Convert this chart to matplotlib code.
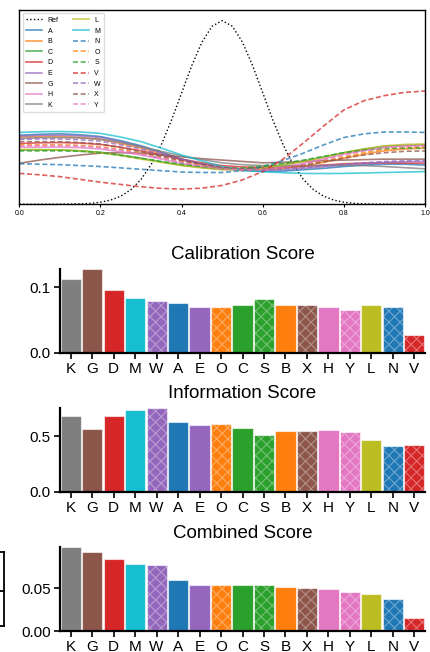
import numpy as np
import matplotlib
matplotlib.use('Agg')
import matplotlib.pyplot as plt
from matplotlib.lines import Line2D

plt.rcParams['font.family'] = ['Liberation Sans', 'DejaVu Sans']
plt.rcParams['hatch.linewidth'] = 0.8

# ---- data: fitted curves (top panel) ----
x_ref = [0.0, 0.025, 0.05, 0.075, 0.1, 0.125, 0.15, 0.175, 0.2, 0.225,
         0.25, 0.275, 0.3, 0.325, 0.35, 0.375, 0.4, 0.425, 0.45, 0.475,
         0.5, 0.525, 0.55, 0.575, 0.6, 0.625, 0.65, 0.675, 0.7, 0.725,
         0.75, 0.775, 0.8, 0.825, 0.85, 0.875, 0.9, 0.925, 0.95, 0.975, 1.0]
ref = [0.0, 0.0, 0.0002, 0.0005, 0.0013, 0.0035, 0.0088, 0.0203, 0.0443,
       0.091, 0.1753, 0.3174, 0.5399, 0.863, 1.2952, 1.826, 2.4197, 3.011,
       3.5207, 3.866, 3.9894, 3.866, 3.5207, 3.011, 2.4197, 1.826, 1.2952,
       0.863, 0.5399, 0.3174, 0.1753, 0.091, 0.0443, 0.0203, 0.0088, 0.0035,
       0.0013, 0.0005, 0.0002, 0.0, 0.0]

x_fit = [0.0, 0.05, 0.1, 0.15, 0.2, 0.25, 0.3, 0.35, 0.4, 0.45, 0.5,
         0.55, 0.6, 0.65, 0.7, 0.75, 0.8, 0.85, 0.9, 0.95, 1.0]
curves = {
    'A': [1.50, 1.52, 1.53, 1.51, 1.47, 1.38, 1.27, 1.13, 0.98, 0.87, 0.78,
          0.73, 0.71, 0.72, 0.75, 0.78, 0.82, 0.85, 0.87, 0.87, 0.85],
    'B': [1.46, 1.47, 1.47, 1.45, 1.41, 1.32, 1.22, 1.09, 0.96, 0.86, 0.78,
          0.75, 0.75, 0.78, 0.83, 0.91, 1.00, 1.09, 1.16, 1.20, 1.22],
    'C': [1.18, 1.18, 1.18, 1.16, 1.13, 1.07, 1.00, 0.92, 0.85, 0.80, 0.76,
          0.76, 0.80, 0.86, 0.94, 1.03, 1.12, 1.20, 1.26, 1.28, 1.29],
    'D': [1.32, 1.335, 1.34, 1.33, 1.30, 1.24, 1.16, 1.07, 0.98, 0.90, 0.84,
          0.81, 0.80, 0.805, 0.82, 0.85, 0.88, 0.895, 0.90, 0.895, 0.89],
    'E': [1.48, 1.495, 1.50, 1.485, 1.45, 1.36, 1.25, 1.12, 0.98, 0.88, 0.80,
          0.75, 0.73, 0.75, 0.78, 0.815, 0.85, 0.88, 0.91, 0.925, 0.93],
    'G': [0.89, 0.96, 1.02, 1.07, 1.11, 1.12, 1.11, 1.07, 1.03, 0.99, 0.96,
          0.93, 0.90, 0.91, 0.93, 0.945, 0.96, 0.97, 0.98, 0.98, 0.98],
    'H': [1.24, 1.24, 1.24, 1.23, 1.20, 1.14, 1.07, 0.98, 0.89, 0.82, 0.76,
          0.75, 0.76, 0.81, 0.89, 0.99, 1.09, 1.17, 1.24, 1.27, 1.28],
    'K': [1.43, 1.445, 1.45, 1.44, 1.41, 1.34, 1.25, 1.15, 1.05, 0.97, 0.90,
          0.86, 0.84, 0.835, 0.84, 0.845, 0.85, 0.84, 0.82, 0.795, 0.77],
    'L': [1.19, 1.19, 1.18, 1.16, 1.12, 1.06, 0.98, 0.91, 0.84, 0.79, 0.75,
          0.75, 0.78, 0.85, 0.93, 1.02, 1.12, 1.20, 1.27, 1.30, 1.31],
    'M': [1.56, 1.575, 1.58, 1.57, 1.54, 1.46, 1.36, 1.22, 1.07, 0.94, 0.82,
          0.75, 0.71, 0.685, 0.67, 0.668, 0.67, 0.68, 0.69, 0.70, 0.71],
    'N': [0.88, 0.87, 0.86, 0.84, 0.82, 0.79, 0.76, 0.73, 0.70, 0.69, 0.69,
          0.73, 0.82, 0.95, 1.11, 1.29, 1.45, 1.53, 1.57, 1.57, 1.56],
    'O': [1.29, 1.29, 1.29, 1.28, 1.25, 1.19, 1.11, 1.02, 0.93, 0.85, 0.78,
          0.75, 0.75, 0.79, 0.85, 0.94, 1.03, 1.12, 1.19, 1.23, 1.25],
    'S': [1.16, 1.16, 1.16, 1.15, 1.12, 1.06, 1.00, 0.93, 0.87, 0.82, 0.78,
          0.79, 0.83, 0.89, 0.96, 1.04, 1.12, 1.18, 1.21, 1.22, 1.22],
    'V': [0.67, 0.64, 0.60, 0.54, 0.48, 0.43, 0.38, 0.345, 0.33, 0.35, 0.41,
          0.53, 0.71, 0.98, 1.33, 1.70, 2.05, 2.25, 2.36, 2.43, 2.46],
    'W': [1.41, 1.42, 1.42, 1.40, 1.37, 1.29, 1.20, 1.08, 0.96, 0.87, 0.80,
          0.76, 0.75, 0.77, 0.80, 0.835, 0.87, 0.90, 0.93, 0.945, 0.95],
    'X': [1.36, 1.36, 1.36, 1.34, 1.31, 1.23, 1.14, 1.04, 0.95, 0.87, 0.80,
          0.77, 0.76, 0.80, 0.85, 0.92, 1.00, 1.07, 1.12, 1.15, 1.16],
    'Y': [1.27, 1.27, 1.27, 1.26, 1.23, 1.17, 1.09, 1.00, 0.91, 0.83, 0.77,
          0.75, 0.75, 0.80, 0.87, 0.97, 1.07, 1.16, 1.23, 1.26, 1.27],
}

# ---- data: scores (bar panels), sorted by combined score ----
order = ['K', 'G', 'D', 'M', 'W', 'A', 'E', 'O', 'C', 'S', 'B', 'X', 'H',
         'Y', 'L', 'N', 'V']
calibration = [0.1128, 0.128, 0.0954, 0.083, 0.0795, 0.0754, 0.0703, 0.0692,
               0.0734, 0.0815, 0.0734, 0.0728, 0.0692, 0.0651, 0.0734, 0.0692,
               0.0277]
information = [0.680, 0.566, 0.683, 0.734, 0.755, 0.626, 0.602, 0.611, 0.572,
               0.512, 0.545, 0.548, 0.554, 0.539, 0.464, 0.416, 0.425]
combined = [0.0970, 0.0919, 0.0831, 0.0781, 0.0769, 0.0596, 0.0538, 0.0535,
            0.0535, 0.0535, 0.0512, 0.0504, 0.0489, 0.0458, 0.0431, 0.0373,
            0.0154]

# colour and style per method
colors = {
    'A': 'tab:blue', 'B': 'tab:orange', 'C': 'tab:green', 'D': 'tab:red',
    'E': 'tab:purple', 'G': 'tab:brown', 'H': 'tab:pink', 'K': 'tab:gray',
    'L': 'tab:olive', 'M': 'tab:cyan', 'N': 'tab:blue', 'O': 'tab:orange',
    'S': 'tab:green', 'V': 'tab:red', 'W': 'tab:purple', 'X': 'tab:brown',
    'Y': 'tab:pink',
}
dashed = ['N', 'O', 'S', 'V', 'W', 'X', 'Y']

fig = plt.figure(figsize=(4.3, 6.52), dpi=100)

# 1. curves against the reference
ax0 = fig.add_axes([0.045, 0.6867, 0.9435, 0.298])
ax0.plot(x_ref, ref, ':', color='black', lw=1.0, label='Ref')
for name, vals in curves.items():
    if name in dashed:
        ax0.plot(x_fit, vals, '--', color=colors[name], lw=1.2, alpha=0.75,
                 dashes=(3, 1.6), label=name)
    else:
        ax0.plot(x_fit, vals, '-', color=colors[name], lw=1.2, alpha=0.75,
                 label=name)
ax0.set_xlim(0, 1)
ax0.set_ylim(0, 4.22)
ax0.set_yticks([])
ax0.set_xticks([0.0, 0.2, 0.4, 0.6, 0.8, 1.0])
ax0.tick_params(axis='x', labelsize=5, length=2, width=0.8, pad=2)
for sp in ax0.spines.values():
    sp.set_linewidth(1.0)
ax0.legend(loc='upper left', ncol=2, fontsize=5, handlelength=2.3,
           columnspacing=2.0, labelspacing=0.52, borderpad=0.5,
           edgecolor='#dddddd', framealpha=1)

# 2. score bar panels
panels = [('Calibration Score', calibration, [0.0, 0.1], '{:.1f}', 0.459),
          ('Information Score', information, [0.0, 0.5], '{:.1f}', 0.2454),
          ('Combined Score', combined, [0.0, 0.05], '{:.2f}', 0.0317)]
xpos = np.arange(len(order))
for title, vals, yt, fmt, bottom in panels:
    ax = fig.add_axes([0.1395, bottom, 0.849, 0.1288])
    for i, name in enumerate(order):
        ax.bar(xpos[i], vals[i], width=0.94, color=colors[name],
               edgecolor=(1, 1, 1, 0.6), linewidth=0.8)
        if name in dashed:
            # light hatch on top of the fill
            ax.bar(xpos[i], vals[i], width=0.94, fill=False, hatch='xxx',
                   edgecolor=(1, 1, 1, 0.35), linewidth=0)
    ax.set_xlim(-0.5, len(order) - 0.5)
    ax.set_ylim(0, max(vals))
    ax.set_xticks(xpos)
    ax.set_xticklabels(order)
    ax.set_yticks(yt)
    ax.set_yticklabels([fmt.format(v) for v in yt])
    ax.tick_params(labelsize=11, length=4, width=1.2, pad=2.5)
    ax.spines['top'].set_visible(False)
    ax.spines['right'].set_visible(False)
    ax.spines['left'].set_linewidth(1.6)
    ax.spines['bottom'].set_linewidth(1.6)
    ax.set_title(title, fontsize=13.5, pad=7)

# cut-off element at the lower-left edge
bx = 4 / 430
yt_, ym_, yb_ = 1 - 552 / 652, 1 - 591 / 652, 1 - 626 / 652
for yy in (yt_, ym_, yb_):
    fig.add_artist(Line2D([0, bx], [yy, yy], color='black', lw=1.3))
fig.add_artist(Line2D([bx, bx], [yb_, yt_], color='black', lw=1.3))

fig.savefig('out.png', dpi=100)
